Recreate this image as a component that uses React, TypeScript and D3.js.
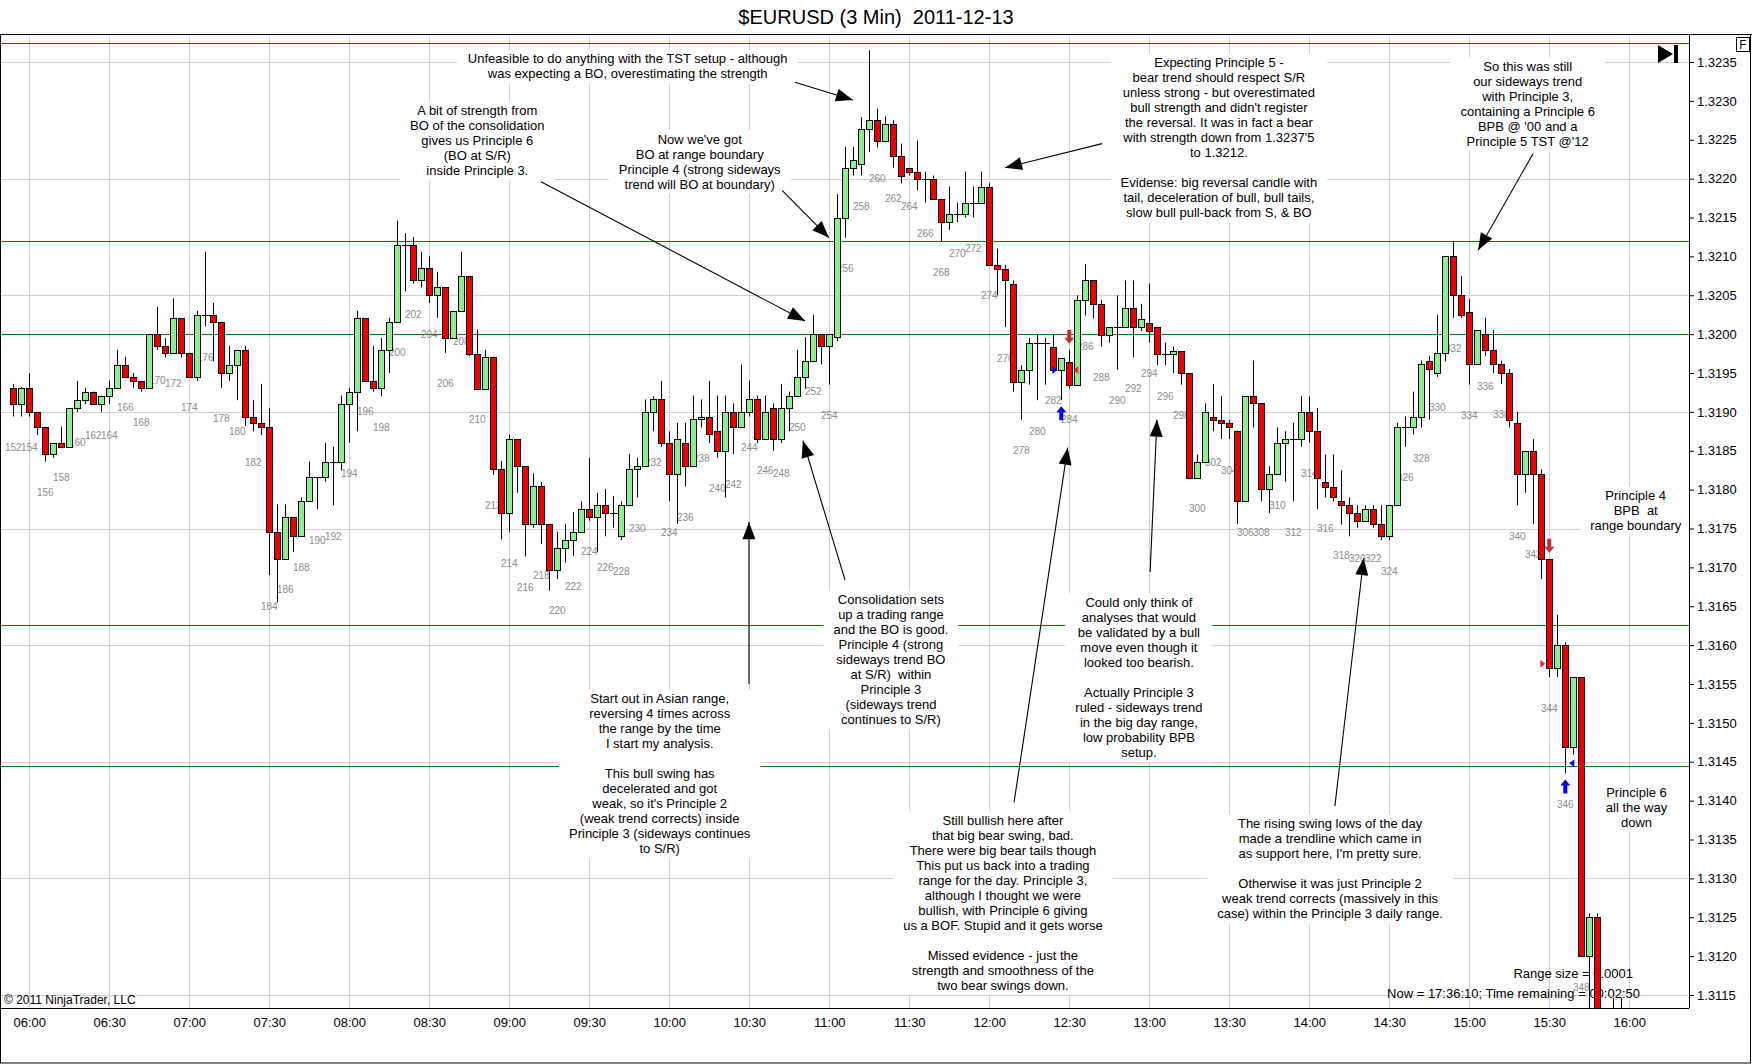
import { useEffect, useRef } from 'react';
import * as d3 from 'd3';

// 3 minute bars, numbered like the chart labels (bar 154 closes at 06:00)
const FIRST_BAR = 152;

const opens = [
  1.31931, 1.31910, 1.31931, 1.31900, 1.31881, 1.31846, 1.31860, 1.31855, 1.31905, 1.31915, // 152
  1.31926, 1.31910, 1.31921, 1.31931, 1.31960, 1.31945, 1.31940, 1.31931, 1.32000, 1.31985, // 162
  1.31976, 1.32021, 1.31976, 1.31945, 1.32025, 1.32025, 1.32016, 1.31950, 1.31960, 1.31980, // 172
  1.31894, 1.31886, 1.31881, 1.31746, 1.31711, 1.31765, 1.31740, 1.31786, 1.31816, 1.31816, // 182
  1.31836, 1.31836, 1.31910, 1.31926, 1.32021, 1.31940, 1.31931, 1.31980, 1.32016, 1.32115, // 192
  1.32115, 1.32070, 1.32085, 1.32050, 1.32060, 1.31995, 1.32030, 1.32075, 1.31975, 1.31930, // 202
  1.31971, 1.31826, 1.31770, 1.31865, 1.31830, 1.31756, 1.31805, 1.31756, 1.31696, 1.31725, // 212
  1.31735, 1.31746, 1.31775, 1.31765, 1.31780, 1.31770, 1.31740, 1.31780, 1.31826, 1.31830, // 222
  1.31900, 1.31916, 1.31860, 1.31820, 1.31860, 1.31830, 1.31891, 1.31894, 1.31876, 1.31850, // 232
  1.31900, 1.31880, 1.31900, 1.31916, 1.31865, 1.31905, 1.31865, 1.31905, 1.31920, 1.31945, // 242
  1.31966, 1.32000, 1.31985, 1.31996, 1.32150, 1.32214, 1.32219, 1.32264, 1.32275, 1.32249, // 252
  1.32270, 1.32229, 1.32214, 1.32209, 1.32200, 1.32200, 1.32174, 1.32144, 1.32155, 1.32155, // 262
  1.32169, 1.32169, 1.32189, 1.32089, 1.32084, 1.32065, 1.31939, 1.31954, 1.31989, 1.31989, // 272
  1.31984, 1.31954, 1.31964, 1.31935, 1.32044, 1.32069, 1.32039, 1.31999, 1.32009, 1.32009, // 282
  1.32034, 1.32009, 1.32014, 1.32009, 1.31975, 1.31975, 1.31978, 1.31950, 1.31815, 1.31835, // 292
  1.31894, 1.31890, 1.31886, 1.31876, 1.31785, 1.31920, 1.31911, 1.31801, 1.31820, 1.31860, // 302
  1.31865, 1.31865, 1.31900, 1.31876, 1.31810, 1.31804, 1.31785, 1.31780, 1.31770, 1.31760, // 312
  1.31775, 1.31756, 1.31740, 1.31780, 1.31880, 1.31880, 1.31894, 1.31965, 1.31950, 1.31976, // 322
  1.32100, 1.32050, 1.32029, 1.31961, 1.32000, 1.31980, 1.31961, 1.31950, 1.31886, 1.31820, // 332
  1.31850, 1.31820, 1.31711, 1.31570, 1.31600, 1.31469, 1.31559, 1.31200, 1.31250, 1.31100, // 342
  1.31070, 1.31080, // 352
];

const highs = [
  1.31936, 1.31932, 1.31950, 1.31900, 1.31881, 1.31860, 1.31881, 1.31905, 1.31940, 1.31931,
  1.31926, 1.31921, 1.31940, 1.31980, 1.31971, 1.31950, 1.31940, 1.32000, 1.32035, 1.31995,
  1.32046, 1.32021, 1.31976, 1.32030, 1.32106, 1.32040, 1.32016, 1.31985, 1.31980, 1.31985,
  1.31915, 1.31936, 1.31905, 1.31781, 1.31781, 1.31765, 1.31790, 1.31836, 1.31816, 1.31860,
  1.31855, 1.31921, 1.31931, 1.32030, 1.32021, 1.31985, 1.31995, 1.32021, 1.32146, 1.32130,
  1.32125, 1.32106, 1.32100, 1.32080, 1.32060, 1.32030, 1.32106, 1.32075, 1.32006, 1.31980,
  1.31971, 1.31837, 1.31871, 1.31865, 1.31830, 1.31821, 1.31810, 1.31756, 1.31746, 1.31756,
  1.31771, 1.31785, 1.31841, 1.31796, 1.31801, 1.31792, 1.31785, 1.31846, 1.31841, 1.31916,
  1.31920, 1.31940, 1.31875, 1.31886, 1.31886, 1.31921, 1.31916, 1.31940, 1.31921, 1.31921,
  1.31911, 1.31961, 1.31940, 1.31921, 1.31921, 1.31911, 1.31936, 1.31926, 1.31980, 1.31996,
  1.32025, 1.32000, 1.32000, 1.32180, 1.32241, 1.32241, 1.32279, 1.32365, 1.32290, 1.32280,
  1.32275, 1.32245, 1.32214, 1.32249, 1.32209, 1.32204, 1.32174, 1.32190, 1.32169, 1.32209,
  1.32190, 1.32209, 1.32194, 1.32110, 1.32089, 1.32069, 1.31960, 1.31995, 1.31999, 1.31995,
  1.31999, 1.31969, 1.31980, 1.32050, 1.32090, 1.32069, 1.32044, 1.32009, 1.32050, 1.32069,
  1.32069, 1.32039, 1.32065, 1.32009, 1.31989, 1.31984, 1.31978, 1.31950, 1.31845, 1.31911,
  1.31936, 1.31920, 1.31890, 1.31876, 1.31920, 1.31966, 1.31911, 1.31830, 1.31880, 1.31875,
  1.31886, 1.31920, 1.31920, 1.31905, 1.31845, 1.31845, 1.31825, 1.31790, 1.31780, 1.31780,
  1.31780, 1.31780, 1.31780, 1.31886, 1.31894, 1.31926, 1.31966, 1.31972, 1.32025, 1.32100,
  1.32120, 1.32075, 1.32045, 1.32005, 1.32021, 1.32005, 1.31966, 1.31955, 1.31900, 1.31850,
  1.31865, 1.31826, 1.31711, 1.31639, 1.31604, 1.31559, 1.31559, 1.31255, 1.31255, 1.31110,
  1.31146, 1.31146,
];

const lows = [
  1.31894, 1.31894, 1.31894, 1.31870, 1.31836, 1.31841, 1.31855, 1.31855, 1.31900, 1.31910,
  1.31910, 1.31900, 1.31910, 1.31931, 1.31945, 1.31931, 1.31926, 1.31931, 1.31980, 1.31970,
  1.31976, 1.31970, 1.31945, 1.31940, 1.32010, 1.31965, 1.31931, 1.31940, 1.31915, 1.31882,
  1.31875, 1.31870, 1.31690, 1.31655, 1.31711, 1.31720, 1.31740, 1.31786, 1.31775, 1.31810,
  1.31780, 1.31825, 1.31860, 1.31875, 1.31940, 1.31926, 1.31920, 1.31950, 1.32016, 1.32055,
  1.32065, 1.32060, 1.32040, 1.32021, 1.31976, 1.31995, 1.32030, 1.31972, 1.31930, 1.31930,
  1.31819, 1.31736, 1.31745, 1.31796, 1.31714, 1.31751, 1.31730, 1.31670, 1.31685, 1.31706,
  1.31715, 1.31746, 1.31760, 1.31720, 1.31740, 1.31751, 1.31735, 1.31780, 1.31790, 1.31830,
  1.31875, 1.31855, 1.31785, 1.31756, 1.31804, 1.31830, 1.31880, 1.31860, 1.31841, 1.31790,
  1.31846, 1.31880, 1.31894, 1.31860, 1.31865, 1.31850, 1.31860, 1.31875, 1.31920, 1.31930,
  1.31966, 1.31961, 1.31935, 1.31991, 1.32124, 1.32204, 1.32204, 1.32234, 1.32240, 1.32249,
  1.32214, 1.32194, 1.32204, 1.32185, 1.32169, 1.32174, 1.32119, 1.32134, 1.32144, 1.32150,
  1.32150, 1.32169, 1.32089, 1.32050, 1.32009, 1.31926, 1.31890, 1.31935, 1.31915, 1.31935,
  1.31954, 1.31915, 1.31930, 1.31935, 1.32024, 1.32020, 1.31984, 1.31989, 1.31954, 1.32009,
  1.31970, 1.32004, 1.31989, 1.31960, 1.31960, 1.31950, 1.31935, 1.31815, 1.31815, 1.31835,
  1.31875, 1.31865, 1.31865, 1.31756, 1.31785, 1.31880, 1.31785, 1.31770, 1.31820, 1.31810,
  1.31785, 1.31855, 1.31860, 1.31775, 1.31790, 1.31785, 1.31755, 1.31740, 1.31751, 1.31760,
  1.31751, 1.31735, 1.31735, 1.31780, 1.31855, 1.31871, 1.31880, 1.31890, 1.31945, 1.31965,
  1.32021, 1.32021, 1.31935, 1.31961, 1.31972, 1.31950, 1.31936, 1.31880, 1.31780, 1.31796,
  1.31756, 1.31685, 1.31559, 1.31559, 1.31435, 1.31459, 1.31200, 1.31120, 1.31080, 1.31050,
  1.31040, 1.31050,
];

const closes = [
  1.31910, 1.31931, 1.31900, 1.31881, 1.31846, 1.31860, 1.31855, 1.31905, 1.31915, 1.31926,
  1.31910, 1.31921, 1.31931, 1.31960, 1.31945, 1.31940, 1.31931, 1.32000, 1.31985, 1.31976,
  1.32021, 1.31976, 1.31945, 1.32025, 1.32025, 1.32016, 1.31950, 1.31960, 1.31980, 1.31894,
  1.31886, 1.31881, 1.31746, 1.31711, 1.31765, 1.31740, 1.31786, 1.31816, 1.31816, 1.31836,
  1.31836, 1.31910, 1.31926, 1.32021, 1.31940, 1.31931, 1.31980, 1.32016, 1.32115, 1.32115,
  1.32070, 1.32085, 1.32050, 1.32060, 1.31995, 1.32030, 1.32075, 1.31975, 1.31930, 1.31971,
  1.31826, 1.31770, 1.31865, 1.31830, 1.31756, 1.31805, 1.31756, 1.31696, 1.31725, 1.31735,
  1.31746, 1.31775, 1.31765, 1.31780, 1.31770, 1.31770, 1.31780, 1.31826, 1.31830, 1.31900,
  1.31916, 1.31860, 1.31820, 1.31865, 1.31830, 1.31891, 1.31894, 1.31871, 1.31850, 1.31900,
  1.31880, 1.31900, 1.31916, 1.31865, 1.31900, 1.31865, 1.31905, 1.31920, 1.31945, 1.31966,
  1.32000, 1.31985, 1.32000, 1.32150, 1.32214, 1.32224, 1.32264, 1.32275, 1.32249, 1.32270,
  1.32229, 1.32203, 1.32209, 1.32200, 1.32200, 1.32174, 1.32144, 1.32155, 1.32155, 1.32169,
  1.32169, 1.32189, 1.32089, 1.32084, 1.32069, 1.31939, 1.31954, 1.31989, 1.31989, 1.31989,
  1.31954, 1.31969, 1.31935, 1.32044, 1.32069, 1.32039, 1.31999, 1.32009, 1.32009, 1.32034,
  1.32009, 1.32020, 1.32004, 1.31975, 1.31975, 1.31978, 1.31950, 1.31815, 1.31835, 1.31900,
  1.31890, 1.31886, 1.31880, 1.31785, 1.31920, 1.31911, 1.31801, 1.31820, 1.31860, 1.31865,
  1.31865, 1.31900, 1.31876, 1.31815, 1.31804, 1.31790, 1.31780, 1.31770, 1.31760, 1.31775,
  1.31756, 1.31740, 1.31780, 1.31880, 1.31880, 1.31894, 1.31961, 1.31955, 1.31976, 1.32100,
  1.32050, 1.32025, 1.31961, 1.32005, 1.31980, 1.31961, 1.31950, 1.31890, 1.31820, 1.31850,
  1.31820, 1.31711, 1.31570, 1.31600, 1.31469, 1.31559, 1.31200, 1.31250, 1.31100, 1.31070,
  1.31080, 1.31090,
];

// horizontal S/R lines drawn on the chart
const levels = [1.32375, 1.3212, 1.32, 1.31626, 1.31444];

// price axis labels and grid
const priceTicks = d3.range(25).map(i => +(1.3115 + i * 0.0005).toFixed(4));
const gridPrices = priceTicks.filter((_, i) => i % 3 === 0);

// trade signals / fills
const signalBars = [283, 284, 344, 346];
const signalDirs = ['up', 'down', 'down', 'up'];
const fillBars = [283, 284, 344, 346];
const fillPrices = [1.31954, 1.31954, 1.31576, 1.31448];
const fillKinds = ['buyEntry', 'sellExit', 'sellEntry', 'buyExit'];

// text notes, anchored in bar / price
const noteTexts = [
  "Unfeasible to do anything with the TST setup - although\nwas expecting a BO, overestimating the strength",
  "A bit of strength from\nBO of the consolidation\ngives us Principle 6\n(BO at S/R)\ninside Principle 3.",
  "Now we've got\nBO at range boundary\nPrinciple 4 (strong sideways\ntrend will BO at boundary)",
  "Expecting Principle 5 -\nbear trend should respect S/R\nunless strong - but overestimated\nbull strength and didn't register\nthe reversal. It was in fact a bear\nwith strength down from 1.3237'5\nto 1.3212.\n\nEvidense: big reversal candle with\ntail, deceleration of bull, bull tails,\nslow bull pull-back from S, & BO",
  "So this was still\nour sideways trend\nwith Principle 3,\ncontaining a Principle 6\nBPB @ '00 and a\nPrinciple 5 TST @'12",
  "Principle 4\nBPB  at\nrange boundary",
  "Principle 6\nall the way\ndown",
  "Consolidation sets\nup a trading range\nand the BO is good.\nPrinciple 4 (strong\nsideways trend BO\nat S/R)  within\nPrinciple 3\n(sideways trend\ncontinues to S/R)",
  "Start out in Asian range,\nreversing 4 times across\nthe range by the time\nI start my analysis.\n\nThis bull swing has\ndecelerated and got\nweak, so it's Principle 2\n(weak trend corrects) inside\nPrinciple 3 (sideways continues\nto S/R)",
  "Could only think of\nanalyses that would\nbe validated by a bull\nmove even though it\nlooked too bearish.\n\nActually Principle 3\nruled - sideways trend\nin the big day range,\nlow probability BPB\nsetup.",
  "Still bullish here after\nthat big bear swing, bad.\nThere were big bear tails though\nThis put us back into a trading\nrange for the day. Principle 3,\nalthough I thought we were\nbullish, with Principle 6 giving\nus a BOF. Stupid and it gets worse\n\nMissed evidence - just the\nstrength and smoothness of the\ntwo bear swings down.",
  "The rising swing lows of the day\nmade a trendline which came in\nas support here, I'm pretty sure.\n\nOtherwise it was just Principle 2\nweak trend corrects (massively in this\ncase) within the Principle 3 daily range.",
];
const noteBars = [228.8, 210, 237.8, 302.7, 341.3, 354.8, 354.9, 261.7, 232.8, 292.7, 275.7, 316.6];
const notePrices = [1.32354, 1.32288, 1.32251, 1.32349, 1.32344, 1.31793, 1.3141, 1.31659, 1.31531, 1.31655, 1.31375, 1.31371];

// arrows: [bar, price] from -> to
const arrowFrom = [
  [249.7, 1.32324], [217.96, 1.32196], [248.1, 1.32185], [288.1, 1.32245], [341.96, 1.32232],
  [255.96, 1.31684], [243.96, 1.3155], [294.1, 1.31694], [277.1, 1.31398], [317.2, 1.31393],
];
const arrowTo = [
  [256.96, 1.32301], [250.96, 1.32017], [253.96, 1.32124], [275.96, 1.32214], [335.1, 1.32108],
  [250.7, 1.31863], [243.96, 1.31758], [294.96, 1.3189], [283.8, 1.31854], [320.8, 1.31712],
];

const W = 1752;
const H = 1064;
const plot = { left: 1, top: 34, right: 1689, bottom: 1008 };
const FONT = '"Liberation Sans", Arial, sans-serif';
const UP = '#90ee90';
const DOWN = '#ee0000';

const day = new Date(2011, 11, 13, 6, 0);
const barTime = (n: number) => new Date(day.getTime() + (n - 154) * 180000);

const x = d3.scaleTime().domain([barTime(154), barTime(354)]).range([29.3, 1629.3]);
const y = d3.scaleLinear().domain([1.3115, 1.3235]).range([995, 62]);

const measure = (() => {
  const ctx = document.createElement('canvas').getContext('2d');
  return (s: string) => {
    if (!ctx) return s.length * 6.2;
    ctx.font = `13px ${FONT}`;
    return ctx.measureText(s).width;
  };
})();

const crisp = (v: number) => Math.round(v) + 0.5;

export default function App() {
  const xAxisRef = useRef<SVGGElement>(null);
  const yAxisRef = useRef<SVGGElement>(null);

  useEffect(() => {
    if (!xAxisRef.current || !yAxisRef.current) return;
    d3.select(xAxisRef.current)
      .call(d3.axisBottom(x).ticks(d3.timeMinute.every(30)).tickFormat(d3.timeFormat('%H:%M') as any).tickSize(0).tickPadding(10))
      .attr('font-size', 13)
      .attr('font-family', FONT)
      .call(g => g.select('.domain').remove());
    d3.select(yAxisRef.current)
      .call(d3.axisRight(y).tickValues(priceTicks).tickFormat(d3.format('.4f') as any).tickSize(5).tickPadding(3))
      .attr('font-size', 13)
      .attr('font-family', FONT)
      .call(g => g.select('.domain').remove());
  }, []);

  const bars = opens.map((o, i) => ({ n: FIRST_BAR + i, o, h: highs[i], l: lows[i], c: closes[i] }));
  const timeTicks = x.ticks(d3.timeMinute.every(30) as any);

  const arrowHead = (x1: number, y1: number, x2: number, y2: number) => {
    const len = Math.hypot(x2 - x1, y2 - y1);
    const ux = (x2 - x1) / len, uy = (y2 - y1) / len;
    const bx = x2 - ux * 17, by = y2 - uy * 17;
    return `M${x2},${y2}L${bx - uy * 6.5},${by + ux * 6.5}L${bx + uy * 6.5},${by - ux * 6.5}Z`;
  };

  return (
    <svg width={W} height={H} style={{ position: 'fixed', left: 0, top: 0, background: '#fff' }}
      fontFamily={FONT}>
      <defs>
        <clipPath id="plotClip">
          <rect x={plot.left} y={plot.top} width={plot.right - plot.left} height={plot.bottom - plot.top} />
        </clipPath>
      </defs>
      <rect x={0} y={0} width={W} height={H} fill="#fff" />

      {/* title */}
      <text x={876} y={24} textAnchor="middle" fontSize={20} style={{ whiteSpace: 'pre' }}>
        {'$EURUSD (3 Min)  2011-12-13'}
      </text>

      <g clipPath="url(#plotClip)">
        {/* grid */}
        {timeTicks.map((t, i) => (
          <line key={'vx' + i} x1={crisp(x(t))} x2={crisp(x(t))} y1={plot.top} y2={plot.bottom} stroke="#d0d0d0" />
        ))}
        {gridPrices.map((p, i) => (
          <line key={'hy' + i} x1={plot.left} x2={plot.right} y1={crisp(y(p))} y2={crisp(y(p))} stroke="#d0d0d0" />
        ))}
        {levels.map((p, i) => (
          <line key={'lv' + i} x1={plot.left} x2={plot.right} y1={crisp(y(p))} y2={crisp(y(p))} stroke="#0a7a0a" />
        ))}

        {/* info texts sit under the bars */}
        <text x={1633} y={978} textAnchor="end" fontSize={13}>Range size = 0.0001</text>
        <text x={1640} y={998} textAnchor="end" fontSize={13}>Now = 17:36:10; Time remaining = 00:02:50</text>
        <text x={4} y={1004} fontSize={12}>© 2011 NinjaTrader, LLC</text>

        {/* bar numbers */}
        {bars.filter(b => b.n % 2 === 0).map(b => (
          <text key={'lb' + b.n} x={x(barTime(b.n))} y={y(b.l) + 34.5} textAnchor="middle" fontSize={10} fill="#8c8c8c">
            {b.n}
          </text>
        ))}

        {/* candles */}
        {bars.map(b => {
          const cx = crisp(x(barTime(b.n)));
          const top = crisp(y(Math.max(b.o, b.c)));
          const bot = crisp(y(Math.min(b.o, b.c)));
          return (
            <g key={'c' + b.n}>
              <line x1={cx} x2={cx} y1={y(b.h)} y2={y(b.l)} stroke="#000" />
              {b.o === b.c || bot - top < 1 ? (
                <line x1={cx - 3.5} x2={cx + 4.5} y1={top} y2={top} stroke="#000" />
              ) : (
                <rect x={cx - 3} y={top} width={6} height={bot - top} fill={b.c > b.o ? UP : DOWN} stroke="#000" />
              )}
            </g>
          );
        })}

        {/* signals */}
        {signalBars.map((n, i) => {
          const cx = x(barTime(n));
          const b = bars[n - FIRST_BAR];
          if (signalDirs[i] === 'up') {
            const t = y(b.l) + 6;
            return <path key={'sg' + i} d={`M${cx},${t}l5,6h-3v8h-4v-8h-3z`} fill="#0000ff" />;
          }
          const t = y(b.h) - 6;
          return <path key={'sg' + i} d={`M${cx},${t}l5,-6h-3v-8h-4v8h-3z`} fill="#c0302a" />;
        })}
        {fillBars.map((n, i) => {
          const cx = x(barTime(n));
          const py = y(fillPrices[i]);
          const kind = fillKinds[i];
          const color = kind.startsWith('buy') ? '#0000ff' : '#e03030';
          const d = kind.endsWith('Entry')
            ? `M${cx - 9},${py - 4}L${cx - 4},${py}L${cx - 9},${py + 4}Z`
            : `M${cx + 9},${py - 4}L${cx + 4},${py}L${cx + 9},${py + 4}Z`;
          return <path key={'fl' + i} d={d} fill={color} />;
        })}

        {/* notes */}
        {noteTexts.map((txt, i) => {
          const lines = txt.split('\n');
          const cx = x(barTime(noteBars[i]));
          const cy = y(notePrices[i]);
          const w = Math.max(...lines.map(measure));
          return (
            <g key={'nt' + i}>
              <rect x={cx - w / 2 - 10} y={cy - 9} width={w + 20} height={(lines.length - 1) * 15 + 19} fill="#fff" />
              {lines.map((ln, j) => (
                <text key={j} x={cx} y={cy + j * 15 + 4.6} textAnchor="middle" fontSize={13} style={{ whiteSpace: 'pre' }}>
                  {ln}
                </text>
              ))}
            </g>
          );
        })}

        {/* arrows */}
        {arrowFrom.map((f, i) => {
          const x1 = x(barTime(f[0])), y1 = y(f[1]);
          const x2 = x(barTime(arrowTo[i][0])), y2 = y(arrowTo[i][1]);
          return (
            <g key={'ar' + i}>
              <line x1={x1} y1={y1} x2={x2} y2={y2} stroke="#000" strokeWidth={1.1} />
              <path d={arrowHead(x1, y1, x2, y2)} fill="#000" />
            </g>
          );
        })}

        {/* go-to-end icon */}
        <path d="M1658,45L1673,54L1658,63Z" fill="#000" />
        <rect x={1674} y={45} width={4} height={18} fill="#000" />
      </g>

      {/* axes */}
      <g ref={xAxisRef} transform={`translate(0,${plot.bottom})`} />
      <g ref={yAxisRef} transform={`translate(${plot.right},0)`} />

      {/* frames */}
      <line x1={0} x2={W} y1={34.5} y2={34.5} stroke="#000" />
      <line x1={0} x2={plot.right} y1={plot.bottom + 0.5} y2={plot.bottom + 0.5} stroke="#000" />
      <line x1={plot.right + 0.5} x2={plot.right + 0.5} y1={34} y2={plot.bottom} stroke="#000" />
      <rect x={0.5} y={34.5} width={W - 2} height={H - 35.5} fill="none" stroke="#000" />

      {/* F box */}
      <rect x={1736.5} y={37.5} width={13} height={14} fill="#fff" stroke="#000" />
      <text x={1743} y={49} textAnchor="middle" fontSize={12}>F</text>
    </svg>
  );
}
